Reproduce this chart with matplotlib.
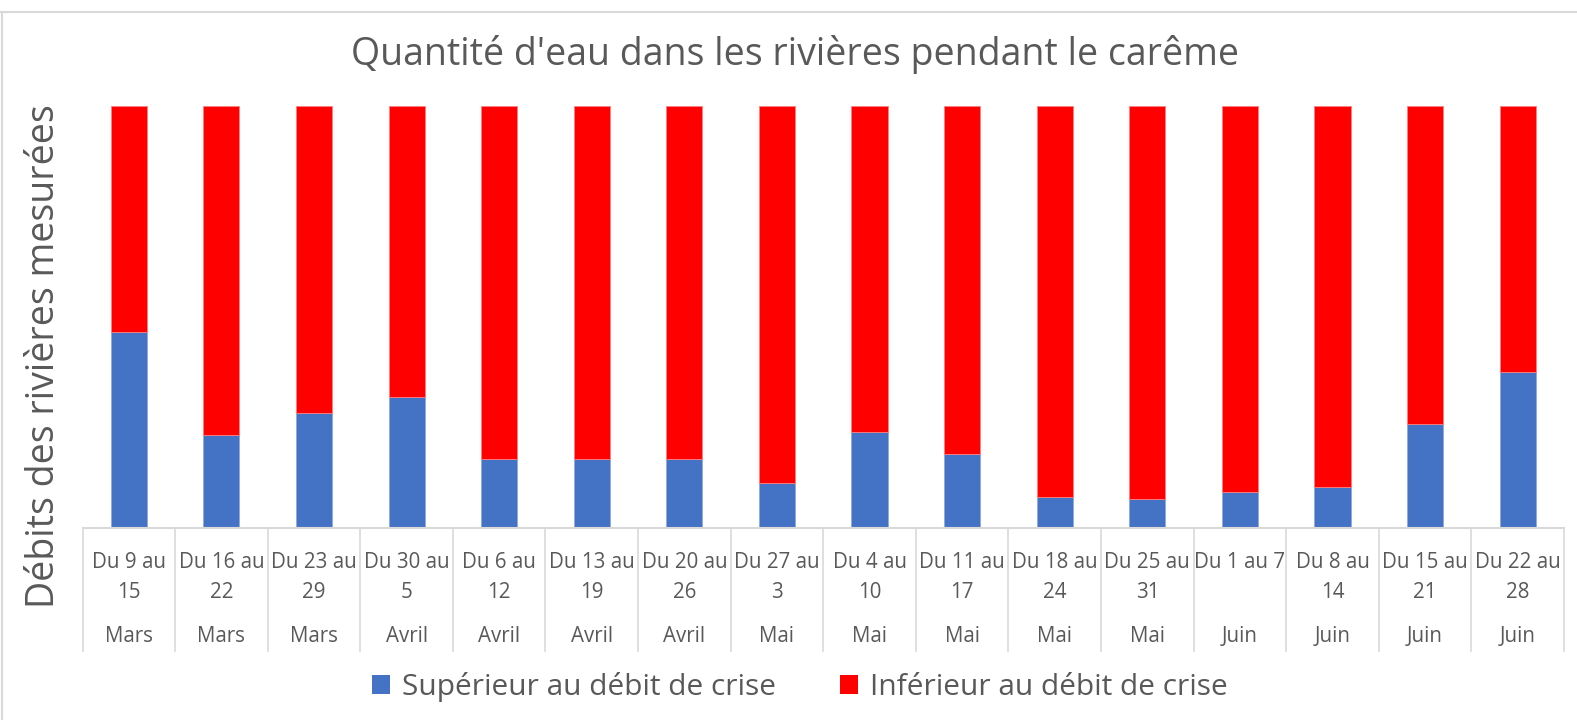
import matplotlib
matplotlib.use("Agg")
import matplotlib.pyplot as plt
import matplotlib.transforms as mtransforms
from matplotlib.patches import Patch
from matplotlib.lines import Line2D

# ------------------ DONNÉES ------------------
semaines = [
    ("Du 9 au", "15"), ("Du 16 au", "22"), ("Du 23 au", "29"), ("Du 30 au", "5"),
    ("Du 6 au", "12"), ("Du 13 au", "19"), ("Du 20 au", "26"), ("Du 27 au", "3"),
    ("Du 4 au", "10"), ("Du 11 au", "17"), ("Du 18 au", "24"), ("Du 25 au", "31"),
    ("Du 1 au 7", ""), ("Du 8 au", "14"), ("Du 15 au", "21"), ("Du 22 au", "28"),
]
mois = ["Mars", "Mars", "Mars", "Avril", "Avril", "Avril", "Avril", "Mai",
        "Mai", "Mai", "Mai", "Mai", "Juin", "Juin", "Juin", "Juin"]
superieur = [46.4, 22.0, 27.3, 31.1, 16.4, 16.4, 16.4, 10.7,
             22.8, 17.5, 7.4, 7.0, 8.6, 9.8, 24.6, 37.0]
inferieur = [100 - v for v in superieur]

BLEU = "#4472C4"
ROUGE = "#FF0000"
GRIS_TXT = "#595959"
GRIS_LIG = "#D9D9D9"

plt.rcParams["font.family"] = ["Open Sans", "DejaVu Sans"]

W, H = 1577, 720
fig = plt.figure(figsize=(W / 100, H / 100), dpi=100)

# zone de tracé (en pixels puis fractions)
x0, x1 = 82.5, 1564
y_top, y_bot = 106, 528.3
ax = fig.add_axes([x0 / W, 1 - y_bot / H, (x1 - x0) / W, (y_bot - y_top) / H])

x = list(range(len(semaines)))
ax.bar(x, superieur, width=0.39, color=BLEU, edgecolor="#8FAADC", linewidth=0.6)
ax.bar(x, inferieur, bottom=superieur, width=0.39, color=ROUGE, edgecolor="#FF8080", linewidth=0.6)

ax.set_xlim(-0.5, len(semaines) - 0.5)
ax.set_ylim(0, 100)
for s in ax.spines.values():
    s.set_visible(False)
ax.set_xticks([])
ax.set_yticks([])

# ------------------ AXE DES CATÉGORIES ------------------
trans = mtransforms.blended_transform_factory(ax.transData, ax.transAxes)
h_ax = y_bot - y_top
def fy(py):
    return (y_bot - py) / h_ax

ax.add_line(Line2D([-0.5, len(semaines) - 0.5], [0, 0], transform=trans,
                   color=GRIS_LIG, lw=1.5, clip_on=False))
for i in range(len(semaines) + 1):
    ax.add_line(Line2D([i - 0.5, i - 0.5], [0, fy(651)], transform=trans,
                       color=GRIS_LIG, lw=1.2, clip_on=False))

for i, (l1, l2) in enumerate(semaines):
    ax.text(i, fy(563), l1, transform=trans, ha="center", va="center",
            fontsize=14.8, color=GRIS_TXT)
    if l2:
        ax.text(i, fy(592), l2, transform=trans, ha="center", va="center",
                fontsize=14.8, color=GRIS_TXT)
    ax.text(i, fy(637), mois[i], transform=trans, ha="center", va="center",
            fontsize=14.8, color=GRIS_TXT)

# ------------------ TITRES ------------------
fig.text(795 / W, 1 - 54 / H, "Quantité d'eau dans les rivières pendant le carême",
         ha="center", va="center", fontsize=27, color=GRIS_TXT)
fig.text(44 / W, 1 - 356 / H, "Débits des rivières mesurées", rotation=90,
         ha="center", va="center", fontsize=27, color=GRIS_TXT)

# ------------------ LÉGENDE ------------------
handles = [Patch(facecolor=BLEU, label="Supérieur au débit de crise"),
           Patch(facecolor=ROUGE, label="Inférieur au débit de crise")]
leg = fig.legend(handles=handles, loc="center", bbox_to_anchor=(800 / W, 1 - 687 / H),
                 ncol=2, frameon=False, fontsize=21.5, handlelength=0.6, handleheight=0.6,
                 handletextpad=0.4, columnspacing=2.15)
for t in leg.get_texts():
    t.set_color(GRIS_TXT)

# ------------------ CADRE ------------------
fig.add_artist(Line2D([1 / W, 1], [1 - 12 / H, 1 - 12 / H], transform=fig.transFigure,
                      color=GRIS_LIG, lw=1.5))
fig.add_artist(Line2D([1.5 / W, 1.5 / W], [0, 1 - 12 / H], transform=fig.transFigure,
                      color=GRIS_LIG, lw=1.5))

fig.savefig("out.png", dpi=100)
